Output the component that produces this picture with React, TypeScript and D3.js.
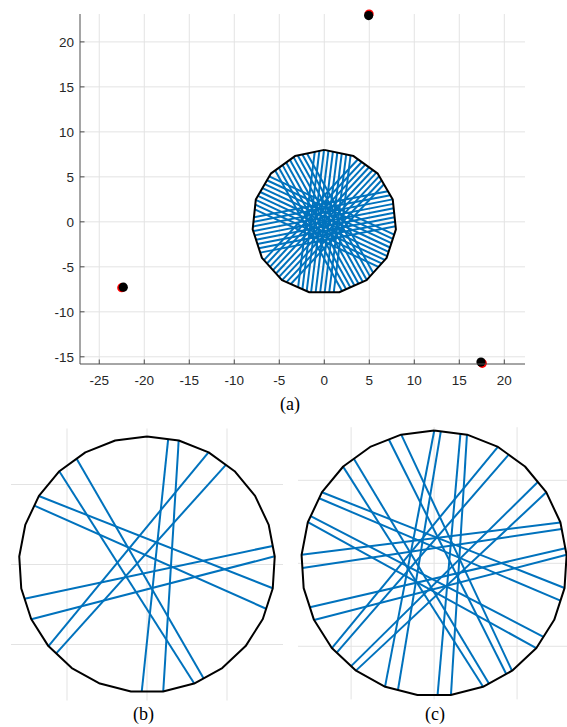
import React from "react";
import * as d3 from "d3";

// Geometry of the scanning set-up: five emitters on a ring around a disc
const SOURCE_DISTANCE = 23.4;
const SOURCE_ANGLES = [10.8, 82.8, 154.8, 226.8, 298.8]; // degrees
const DISC_RADIUS = 8;

// Panel (a): five parallel bundles (direction in degrees, signed offsets)
const BUNDLE_DIRS_A = [11, 47, 83, 119, 155];
const BUNDLE_OFFSETS_A = [-2, -1.5, -1, -0.5, 0, 0.5, 1, 1.5, 2];

// Panels (b), (c): fan rays, signed offset of each ray from the disc centre
const RAY_OFFSETS_B = [0.5, 1.5];
const RAY_OFFSETS_C = [-1.5, -0.9, 0.9, 1.5];

// Number of sides of the polygonal disc outline
const SIDES_A = 15;
const SIDES_BC = 25;

// Anchor positions: estimated (black) and true (red)
const ANCHOR_EST_X = [4.93, -22.33, 17.41];
const ANCHOR_EST_Y = [22.92, -7.26, -15.59];
const ANCHOR_TRUE_X = [4.98, -22.5, 17.55];
const ANCHOR_TRUE_Y = [23.1, -7.32, -15.72];

const X_TICKS = [-25, -20, -15, -10, -5, 0, 5, 10, 15, 20];
const Y_TICKS = [-15, -10, -5, 0, 5, 10, 15, 20];
const ZOOM_GRID = [-5, 0, 5];

const BLUE = "#0072BD";
const GRID = "#e3e3e3";
const AXIS = "#4d4d4d";
const SANS = "'Liberation Sans', Arial, Helvetica, sans-serif";
const SERIF = "'Liberation Serif', 'Times New Roman', Times, serif";

type Pt = [number, number];
const RAD = Math.PI / 180;

function polygon(n: number, r: number): Pt[] {
  return d3.range(n + 1).map((i) => {
    const a = (90 + (360 * i) / n) * RAD;
    return [r * Math.cos(a), r * Math.sin(a)] as Pt;
  });
}

// Clip the infinite line through P with direction u to the convex polygon
function clip(P: Pt, u: Pt, poly: Pt[]): [Pt, Pt] | null {
  const ts: number[] = [];
  for (let i = 0; i < poly.length - 1; i++) {
    const a = poly[i];
    const b = poly[i + 1];
    const e: Pt = [b[0] - a[0], b[1] - a[1]];
    const den = u[0] * e[1] - u[1] * e[0];
    if (Math.abs(den) < 1e-12) continue;
    const w: Pt = [a[0] - P[0], a[1] - P[1]];
    const t = (w[0] * e[1] - w[1] * e[0]) / den;
    const k = (w[0] * u[1] - w[1] * u[0]) / den;
    if (k >= -1e-9 && k <= 1 + 1e-9) ts.push(t);
  }
  if (ts.length < 2) return null;
  const t0 = d3.min(ts)!;
  const t1 = d3.max(ts)!;
  return [
    [P[0] + t0 * u[0], P[1] + t0 * u[1]],
    [P[0] + t1 * u[0], P[1] + t1 * u[1]],
  ];
}

// Rays fanning out from each emitter
function fanChords(offsets: number[], poly: Pt[]) {
  const out: [Pt, Pt][] = [];
  SOURCE_ANGLES.forEach((sg) => {
    const s = sg * RAD;
    const S: Pt = [SOURCE_DISTANCE * Math.cos(s), SOURCE_DISTANCE * Math.sin(s)];
    offsets.forEach((p) => {
      const dir = s + Math.PI + Math.asin(p / SOURCE_DISTANCE);
      const c = clip(S, [Math.cos(dir), Math.sin(dir)], poly);
      if (c) out.push(c);
    });
  });
  return out;
}

// Parallel bundles
function parallelChords(dirs: number[], offsets: number[], poly: Pt[]) {
  const out: [Pt, Pt][] = [];
  dirs.forEach((dg) => {
    const a = dg * RAD;
    const u: Pt = [Math.cos(a), Math.sin(a)];
    offsets.forEach((p) => {
      const c = clip([-p * u[1], p * u[0]], u, poly);
      if (c) out.push(c);
    });
  });
  return out;
}

type Scale = d3.ScaleLinear<number, number>;

function Disc({
  x,
  y,
  poly,
  rays,
  rayWidth,
}: {
  x: Scale;
  y: Scale;
  poly: Pt[];
  rays: [Pt, Pt][];
  rayWidth: number;
}) {
  const line = d3
    .line<Pt>()
    .x((d) => x(d[0]))
    .y((d) => y(d[1]));
  return (
    <g>
      {rays.map((c, i) => (
        <path key={i} d={line(c) || ""} stroke={BLUE} strokeWidth={rayWidth} fill="none" />
      ))}
      <path d={line(poly) || ""} stroke="#000" strokeWidth={2} fill="none" strokeLinejoin="round" />
    </g>
  );
}

function ZoomPanel({
  x,
  y,
  offsets,
  label,
  labelX,
}: {
  x: Scale;
  y: Scale;
  offsets: number[];
  label: string;
  labelX: number;
}) {
  const [x0, x1] = x.range();
  const [y0, y1] = y.range();
  const poly = polygon(SIDES_BC, DISC_RADIUS);
  return (
    <g>
      {ZOOM_GRID.map((v) => (
        <line key={"v" + v} x1={x(v)} x2={x(v)} y1={y0} y2={y1} stroke={GRID} strokeWidth={1} />
      ))}
      {ZOOM_GRID.map((v) => (
        <line key={"h" + v} x1={x0} x2={x1} y1={y(v)} y2={y(v)} stroke={GRID} strokeWidth={1} />
      ))}
      <Disc x={x} y={y} poly={poly} rays={fanChords(offsets, poly)} rayWidth={2} />
      <text x={labelX} y={720} textAnchor="middle" fontFamily={SERIF} fontSize={18} fill="#000">
        {label}
      </text>
    </g>
  );
}

export default function App() {
  // Panel (a): overview with axes
  const xA = d3.scaleLinear().domain([-27.14, 22.3]).range([80, 525]);
  const yA = d3.scaleLinear().domain([-15.8, 23.1]).range([364, 14]);
  // Panels (b) and (c): close-ups of the disc
  const xB = d3.scaleLinear().domain([-8.5, 8.5]).range([11, 283]);
  const yB = d3.scaleLinear().domain([-8.5, 8.5]).range([700.5, 428.5]);
  const xC = d3.scaleLinear().domain([-8.2, 8.2]).range([298, 570.2]);
  const yC = d3.scaleLinear().domain([-8.2, 8.2]).range([699.4, 427.2]);

  const [ax0, ax1] = xA.range();
  const [ay0, ay1] = yA.range();
  const polyA = polygon(SIDES_A, DISC_RADIUS);

  return (
    <svg
      width={567}
      height={727}
      viewBox="0 0 567 727"
      style={{ position: "absolute", left: 0, top: 0, background: "#fff" }}
    >
      <rect width={567} height={727} fill="#fff" />
      {/* grid */}
      {X_TICKS.map((t) => (
        <line key={"gx" + t} x1={xA(t)} x2={xA(t)} y1={ay0} y2={ay1} stroke={GRID} strokeWidth={1} />
      ))}
      {Y_TICKS.map((t) => (
        <line key={"gy" + t} x1={ax0} x2={ax1} y1={yA(t)} y2={yA(t)} stroke={GRID} strokeWidth={1} />
      ))}

      <Disc
        x={xA}
        y={yA}
        poly={polyA}
        rays={parallelChords(BUNDLE_DIRS_A, BUNDLE_OFFSETS_A, polyA)}
        rayWidth={2}
      />

      {/* anchors */}
      {ANCHOR_TRUE_X.map((v, i) => (
        <circle key={"t" + i} cx={xA(v)} cy={yA(ANCHOR_TRUE_Y[i])} r={4.6} fill="#ff0000" />
      ))}
      {ANCHOR_EST_X.map((v, i) => (
        <circle key={"e" + i} cx={xA(v)} cy={yA(ANCHOR_EST_Y[i])} r={4.6} fill="#000" />
      ))}

      {/* axes */}
      <line x1={ax0} x2={ax0} y1={ay0} y2={ay1} stroke={AXIS} strokeWidth={1} />
      <line x1={ax0} x2={ax1} y1={ay0} y2={ay0} stroke={AXIS} strokeWidth={1} />
      {X_TICKS.map((t) => (
        <g key={"tx" + t}>
          <line x1={xA(t)} x2={xA(t)} y1={ay0} y2={ay0 - 4.5} stroke={AXIS} strokeWidth={1} />
          <text x={xA(t)} y={385} textAnchor="middle" fontFamily={SANS} fontSize={13.5} fill="#262626">
            {t}
          </text>
        </g>
      ))}
      {Y_TICKS.map((t) => (
        <g key={"ty" + t}>
          <line x1={ax0} x2={ax0 + 4.5} y1={yA(t)} y2={yA(t)} stroke={AXIS} strokeWidth={1} />
          <text
            x={ax0 - 6}
            y={yA(t)}
            dy="0.36em"
            textAnchor="end"
            fontFamily={SANS}
            fontSize={13.5}
            fill="#262626"
          >
            {t}
          </text>
        </g>
      ))}
      <text x={290} y={410} textAnchor="middle" fontFamily={SERIF} fontSize={18} fill="#000">
        (a)
      </text>

      <ZoomPanel x={xB} y={yB} offsets={RAY_OFFSETS_B} label="(b)" labelX={143.5} />
      <ZoomPanel x={xC} y={yC} offsets={RAY_OFFSETS_C} label="(c)" labelX={435} />
    </svg>
  );
}
